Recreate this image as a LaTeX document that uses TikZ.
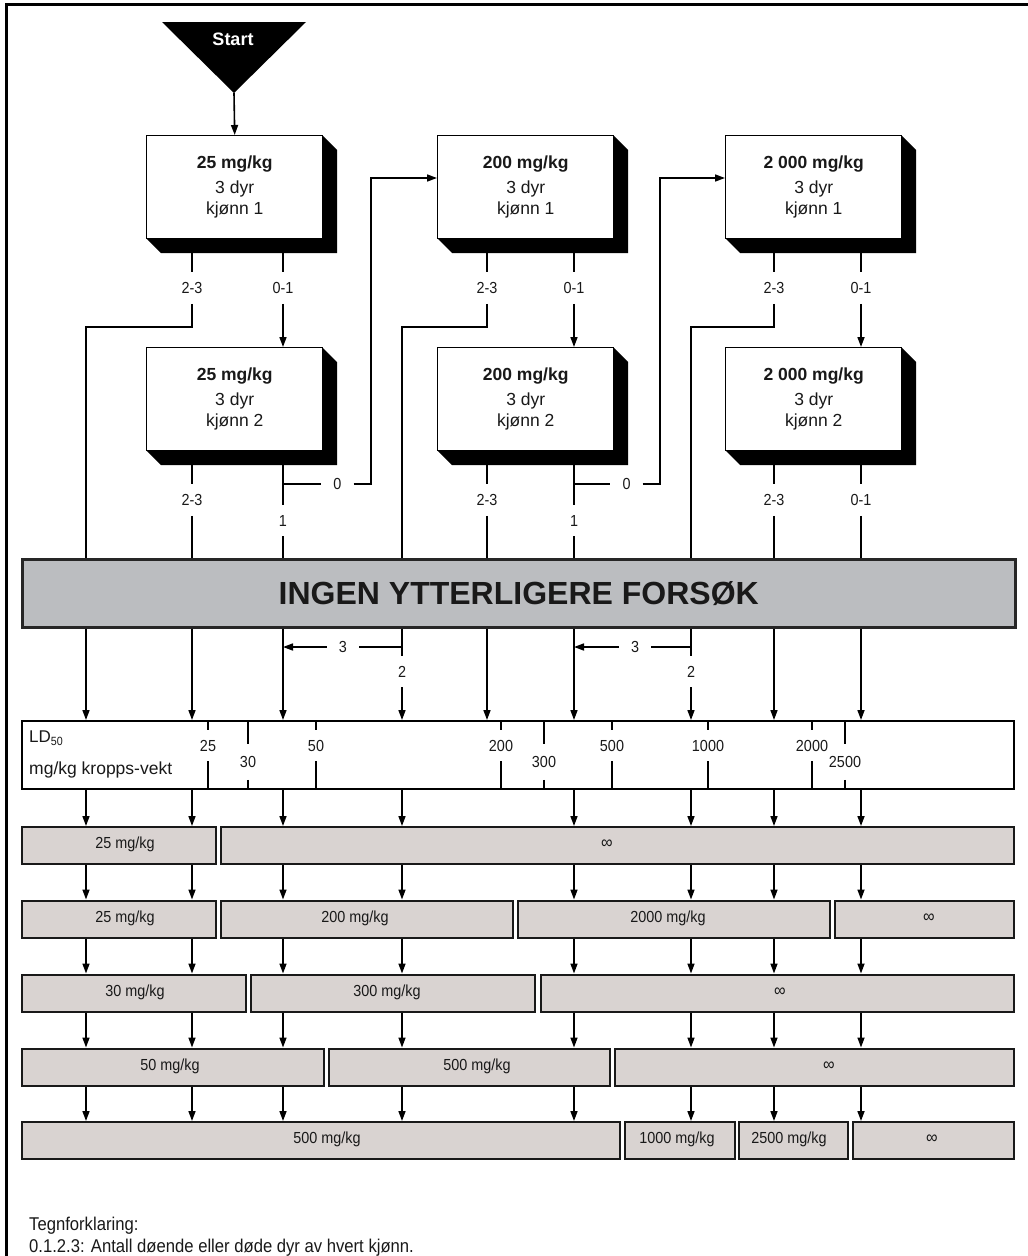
\documentclass[tikz,border=0pt]{standalone}
\usepackage{fontspec}
\setmainfont{Liberation Sans}
\newfontfamily\narrowfont[FakeStretch=0.9]{Liberation Sans}
\usetikzlibrary{arrows.meta,calc}
\definecolor{barfill}{RGB}{187,189,192}
\definecolor{rowfill}{RGB}{217,211,209}
\definecolor{ink}{RGB}{25,25,25}
\tikzset{
  conn/.style={line width=1.6pt, draw=black},
  arr/.style={conn, -{Triangle[length=10pt,width=7pt]}},
  tickline/.style={line width=2pt, draw=black},
  facebox/.style={draw=black, line width=1.4pt, fill=white, minimum width=176pt, minimum height=103pt,
    anchor=north west, align=center, inner sep=0pt, text=ink, font=\fontsize{17.5}{21}\selectfont},
  portlbl/.style={inner xsep=12pt, inner ysep=10pt, font=\narrowfont\fontsize{16}{18}\selectfont, text=ink},
  gbox/.style={draw=black!90, line width=2.2pt, fill=rowfill, anchor=north west, minimum height=37pt, inner sep=0pt},
  gtext/.style={font=\narrowfont\fontsize{16}{18}\selectfont, text=ink, inner sep=0pt},
  legend/.style={anchor=west, font=\narrowfont\fontsize{18.5}{21}\selectfont, text=ink, inner sep=0pt},
}
\newcommand{\infsym}{{\fontsize{18}{18}\selectfont ∞}}
\newcommand{\dosebox}[5]{%
  \fill[black] (#2+176,#3) -- (#2+191,#3+15) -- (#2+191,#3+118) -- (#2+15,#3+118) -- (#2,#3+103) -- cycle;
  \node[facebox] (#1) at (#2,#3) {\textbf{#4}\\[4pt]#5};}
\newcommand{\gb}[6]{%
  \node[gbox, minimum width={(#3-#2)*1pt}] (#1) at (#2,#4) {};
  \node[gtext] (#1t) at (#5,#4+18.5) {#6};}
\begin{document}
\begin{tikzpicture}[x=1pt,y=-1pt]
\useasboundingbox (0,0) rectangle (1028,1256);
% frame
\draw[line width=3pt] (6,1256) -- (6,4) -- (1028,4);

% columns
\coordinate (c1) at (86,0);
\coordinate (c2) at (192,0);
\coordinate (c3) at (283,0);
\coordinate (c4) at (402,0);
\coordinate (c5) at (487,0);
\coordinate (c6) at (574,0);
\coordinate (c7) at (691,0);
\coordinate (c8) at (774,0);
\coordinate (c9) at (861,0);
\coordinate (f1) at (371,178);
\coordinate (f2) at (660,178);

% start
\fill[black] (162,22) -- (306,22) -- (234,93) -- cycle;
\node[font=\bfseries\fontsize{18}{20}\selectfont, text=white] (start) at (233,39) {Start};
\coordinate (apex) at (234,93);

% dose boxes
\dosebox{k11}{146}{135}{25 mg/kg}{3 dyr\\kjønn 1}
\dosebox{k21}{437}{135}{200 mg/kg}{3 dyr\\kjønn 1}
\dosebox{k31}{725}{135}{2 000 mg/kg}{3 dyr\\kjønn 1}
\dosebox{k12}{146}{347}{25 mg/kg}{3 dyr\\kjønn 2}
\dosebox{k22}{437}{347}{200 mg/kg}{3 dyr\\kjønn 2}
\dosebox{k32}{725}{347}{2 000 mg/kg}{3 dyr\\kjønn 2}

\draw[arr] (apex) -- (k11.north);

% bar
\node[draw=black!85, line width=2.5pt, fill=barfill, anchor=north west, minimum width=993pt, minimum height=68pt,
  inner sep=0pt, font=\bfseries\fontsize{32}{36}\selectfont, text=ink] (bar) at (21,558) {INGEN YTTERLIGERE FORSØK};

% LD box
\node[draw=black, line width=2pt, anchor=north west, minimum width=992pt, minimum height=68pt, inner sep=0pt] (ld) at (21,720) {};
\node[anchor=west, inner sep=0pt, font=\fontsize{17}{20}\selectfont, text=ink] (ldt) at (29,738) {LD\textsubscript{\narrowfont 50}};
\node[anchor=west, inner sep=0pt, font=\fontsize{17.5}{20}\selectfont, text=ink] (ldu) at (29,770) {mg/kg kropps-vekt};

% port labels
\node[portlbl] (p11l) at (192,288) {2-3};
\node[portlbl] (p11r) at (283,288) {0-1};
\node[portlbl] (p21l) at (487,288) {2-3};
\node[portlbl] (p21r) at (574,288) {0-1};
\node[portlbl] (p31l) at (774,288) {2-3};
\node[portlbl] (p31r) at (861,288) {0-1};
\node[portlbl] (p12l) at (192,500) {2-3};
\node[portlbl] (p12r) at (283,520.5) {1};
\node[portlbl] (p22l) at (487,500) {2-3};
\node[portlbl] (p22r) at (574,520.5) {1};
\node[portlbl] (p32l) at (774,500) {2-3};
\node[portlbl] (p32r) at (861,500) {0-1};
\node[portlbl] (z1) at (337.5,484) {0};
\node[portlbl] (z2) at (626.5,484) {0};
\node[portlbl] (t4) at (343,647) {3};
\node[portlbl] (t7) at (635,647) {3};
\node[portlbl] (q4) at (402,671.5) {2};
\node[portlbl] (q7) at (691,671.5) {2};

% box 1 kjonn 1
\draw[conn] (p11l |- k11.south) -- (p11l);
\draw[conn] (p11l) -- (p11l |- 0,327) -- (c1 |- 0,327) -- (c1 |- bar.north);
\draw[conn] (p11r |- k11.south) -- (p11r);
\draw[arr] (p11r) -- (p11r |- k12.north);
% box 1 kjonn 2
\draw[conn] (p12l |- k12.south) -- (p12l);
\draw[conn] (p12l) -- (p12l |- bar.north);
\draw[conn] (p12r |- k12.south) -- (p12r);
\draw[conn] (p12r) -- (p12r |- bar.north);
\draw[conn] (p12r |- z1) -- (z1);
\draw[arr] (z1) -- (f1 |- z1) -- (f1) -- (k21.west |- f1);
% box 2 kjonn 1
\draw[conn] (p21l |- k21.south) -- (p21l);
\draw[conn] (p21l) -- (p21l |- 0,327) -- (c4 |- 0,327) -- (c4 |- bar.north);
\draw[conn] (p21r |- k21.south) -- (p21r);
\draw[arr] (p21r) -- (p21r |- k22.north);
% box 2 kjonn 2
\draw[conn] (p22l |- k22.south) -- (p22l);
\draw[conn] (p22l) -- (p22l |- bar.north);
\draw[conn] (p22r |- k22.south) -- (p22r);
\draw[conn] (p22r) -- (p22r |- bar.north);
\draw[conn] (p22r |- z2) -- (z2);
\draw[arr] (z2) -- (f2 |- z2) -- (f2) -- (k31.west |- f2);
% box 3 kjonn 1
\draw[conn] (p31l |- k31.south) -- (p31l);
\draw[conn] (p31l) -- (p31l |- 0,327) -- (c7 |- 0,327) -- (c7 |- bar.north);
\draw[conn] (p31r |- k31.south) -- (p31r);
\draw[arr] (p31r) -- (p31r |- k32.north);
% box 3 kjonn 2
\draw[conn] (p32l |- k32.south) -- (p32l);
\draw[conn] (p32l) -- (p32l |- bar.north);
\draw[conn] (p32r |- k32.south) -- (p32r);
\draw[conn] (p32r) -- (p32r |- bar.north);

% below bar
\foreach \c in {c1,c2,c3,c5,c6,c8,c9}{\draw[arr] (\c |- bar.south) -- (\c |- ld.north);}
\draw[conn] (c4 |- bar.south) -- (q4);
\draw[arr] (q4) -- (q4 |- ld.north);
\draw[conn] (c4 |- t4) -- (t4);
\draw[arr] (t4) -- (c3 |- t4);
\draw[conn] (c7 |- bar.south) -- (q7);
\draw[arr] (q7) -- (q7 |- ld.north);
\draw[conn] (c7 |- t7) -- (t7);
\draw[arr] (t7) -- (c6 |- t7);

% LD ticks
\foreach \x/\t in {208/25,316/50,501/200,612/500,708/1000,812/2000}{
  \node[portlbl] (tk\t) at (\x,745.5) {\t};
  \draw[tickline] (tk\t |- ld.north) -- (tk\t);
  \draw[tickline] (tk\t) -- (tk\t |- ld.south);}
\foreach \x/\t in {248/30,544/300,845/2500}{
  \node[portlbl, inner ysep=12pt] (tk\t) at (\x,762) {\t};
  \draw[tickline] (tk\t |- ld.north) -- (tk\t);
  \draw[tickline] (tk\t) -- (tk\t |- ld.south);}

% result rows
\gb{r1a}{21}{215}{826}{125}{25 mg/kg}
\gb{r1b}{220}{1013}{826}{607}{\infsym}
\gb{r2a}{21}{215}{899.5}{125}{25 mg/kg}
\gb{r2b}{220}{512}{899.5}{355}{200 mg/kg}
\gb{r2c}{517}{829}{899.5}{668}{2000 mg/kg}
\gb{r2d}{834}{1013}{899.5}{929}{\infsym}
\gb{r3a}{21}{245}{973.5}{135}{30 mg/kg}
\gb{r3b}{250}{534}{973.5}{387}{300 mg/kg}
\gb{r3c}{540}{1013}{973.5}{780}{\infsym}
\gb{r4a}{21}{323}{1047.5}{170}{50 mg/kg}
\gb{r4b}{328}{609}{1047.5}{477}{500 mg/kg}
\gb{r4c}{614}{1013}{1047.5}{829}{\infsym}
\gb{r5a}{21}{619}{1121}{327}{500 mg/kg}
\gb{r5b}{624}{734}{1121}{677}{1000 mg/kg}
\gb{r5c}{738}{847}{1121}{789}{2500 mg/kg}
\gb{r5d}{852}{1013}{1121}{932}{\infsym}

\foreach \c in {c1,c2,c3,c4,c6,c7,c8,c9}{
  \draw[arr] (\c |- ld.south) -- (\c |- r1a.north);
  \draw[arr] (\c |- r1a.south) -- (\c |- r2a.north);
  \draw[arr] (\c |- r2a.south) -- (\c |- r3a.north);
  \draw[arr] (\c |- r3a.south) -- (\c |- r4a.north);
  \draw[arr] (\c |- r4a.south) -- (\c |- r5a.north);}

% legend
\node[legend] (leg1) at (29,1226) {Tegnforklaring:};
\node[legend] (leg2) at (29,1248) {0.1.2.3: Antall døende eller døde dyr av hvert kjønn.};
\end{tikzpicture}
\end{document}
